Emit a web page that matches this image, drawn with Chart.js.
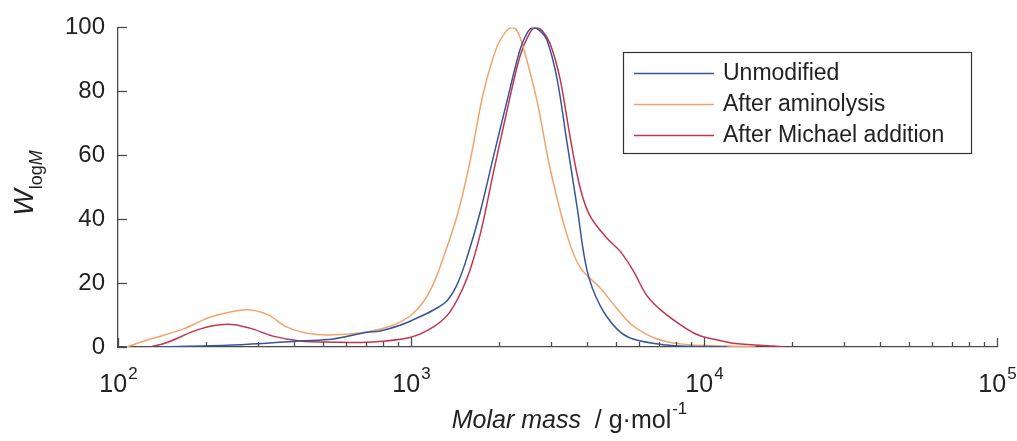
<!DOCTYPE html>
<html>
<head>
<meta charset="utf-8">
<script src="https://cdn.jsdelivr.net/npm/chart.js@4/dist/chart.umd.min.js"></script>
<style>
  body { margin: 0; background: #fff; }
  #wrap { width: 1017px; height: 441px; position: relative; }
</style>
</head>
<body>
<div id="wrap"><canvas id="gpcChart"></canvas></div>
<script>
// molar mass (g/mol) and W_logM
const unmodifiedM = [129, 247, 418, 542, 708, 784, 917, 1016, 1189, 1327, 1436, 1553, 1720, 1905, 2127, 2355, 2500, 2609, 2750, 2912, 3150, 3407, 3686, 3988, 4417, 5049, 5725, 7477, 8959, 12000];
const unmodifiedW = [0, 0.6, 1.9, 2.5, 4.6, 5, 6.8, 8.5, 11.5, 14.5, 19.5, 28, 42, 59, 77, 93, 98.5, 100, 99, 96, 84, 64, 44, 24, 13, 5.6, 2.5, 0.6, 0.2, 0];

const aminolysisM = [107, 129, 167, 206, 267, 323, 377, 442, 542, 708, 868, 992, 1100, 1189, 1256, 1436, 1590, 1761, 1966, 2120, 2212, 2300, 2412, 2692, 2981, 3407, 3774, 4417, 5049, 5725, 6913, 8477, 11980, 15000];
const aminolysisW = [0, 2.5, 5.6, 9.3, 11.6, 10.2, 6.2, 4.3, 3.8, 4.7, 6.8, 9.7, 14, 19.5, 25, 41, 58, 79, 94, 99, 100, 99, 94, 77, 56, 35, 25, 18.5, 12, 6.6, 2.5, 0.9, 0.3, 0];

const michaelM = [129, 147, 190, 236, 282, 338, 418, 542, 708, 992, 1189, 1359, 1553, 1720, 1905, 2127, 2355, 2550, 2671, 2800, 2981, 3225, 3488, 3774, 4082, 4667, 5169, 5725, 6391, 7246, 8750, 9690, 10730, 12560, 17200, 19000];
const michaelW = [0, 1.4, 5.6, 7.1, 5.9, 3.4, 1.9, 1.5, 1.5, 3, 6.2, 11, 21.5, 35, 54, 74, 91, 98.5, 100, 99, 95, 84, 66, 50, 41, 34, 30, 24, 16, 11, 5.6, 3.5, 2.5, 1.2, 0.3, 0];

const seriesLabels = ['Unmodified', 'After aminolysis', 'After Michael addition'];
const seriesColors = ['#34569a', '#f2a46c', '#c2354f'];

const yTicks = [0, 20, 40, 60, 80, 100];
const xDecades = [2, 3, 4, 5];

const FONT = '"Liberation Sans", Arial, sans-serif';
const TEXT = '#222222';
const AXIS = '#4a4a4a';

const toPoints = (xs, ys) => xs.map((x, i) => ({ x: x, y: ys[i] }));

// inward ticks, superscript labels, axis titles and the boxed legend
const decorPlugin = {
    id: 'decor',
    afterDraw(chart) {
        const ctx = chart.ctx;
        const xs = chart.scales.x;
        const ys = chart.scales.y;
        const area = chart.chartArea;

        ctx.save();
        ctx.strokeStyle = AXIS;
        ctx.lineWidth = 1.3;

        // y ticks pointing into the plot
        yTicks.forEach((v) => {
            const py = Math.round(ys.getPixelForValue(v)) + 0.5;
            ctx.beginPath();
            ctx.moveTo(area.left, py);
            ctx.lineTo(area.left + 9, py);
            ctx.stroke();
        });

        // x ticks: major at decades, minor between
        xDecades.forEach((e, i) => {
            const px = Math.round(xs.getPixelForValue(Math.pow(10, e))) + 0.5;
            ctx.beginPath();
            ctx.moveTo(px, area.bottom);
            ctx.lineTo(px, area.bottom - 9);
            ctx.stroke();
            if (i < xDecades.length - 1) {
                for (let m = 2; m <= 9; m++) {
                    const mx = Math.round(xs.getPixelForValue(m * Math.pow(10, e))) + 0.5;
                    ctx.beginPath();
                    ctx.moveTo(mx, area.bottom);
                    ctx.lineTo(mx, area.bottom - 5);
                    ctx.stroke();
                }
            }
        });

        // x tick labels 10^n
        ctx.fillStyle = TEXT;
        ctx.textBaseline = 'alphabetic';
        ctx.textAlign = 'left';
        xDecades.forEach((e) => {
            const px = xs.getPixelForValue(Math.pow(10, e));
            ctx.font = '25px ' + FONT;
            const wBase = ctx.measureText('10').width;
            ctx.font = '17px ' + FONT;
            const wSup = ctx.measureText(String(e)).width;
            const start = px - (wBase + wSup) / 2;
            ctx.font = '25px ' + FONT;
            ctx.fillText('10', start, 392);
            ctx.font = '17px ' + FONT;
            ctx.fillText(String(e), start + wBase + 1, 379);
        });

        // x title
        const t1 = 'Molar mass', t2 = '  / g·mol', t3 = '-1';
        ctx.font = 'italic 25px ' + FONT;
        const w1 = ctx.measureText(t1).width;
        ctx.font = '25px ' + FONT;
        const w2 = ctx.measureText(t2).width;
        ctx.font = '17px ' + FONT;
        const w3 = ctx.measureText(t3).width;
        let tx = 569 - (w1 + w2 + w3) / 2;
        ctx.font = 'italic 25px ' + FONT;
        ctx.fillText(t1, tx, 428);
        tx += w1;
        ctx.font = '25px ' + FONT;
        ctx.fillText(t2, tx, 428);
        tx += w2 + 1;
        ctx.font = '17px ' + FONT;
        ctx.fillText(t3, tx, 414);

        // y title W_logM, rotated
        ctx.save();
        ctx.translate(33, 183);
        ctx.rotate(-Math.PI / 2);
        ctx.font = 'italic 28px ' + FONT;
        const wW = ctx.measureText('W').width;
        ctx.font = '18px ' + FONT;
        const wLog = ctx.measureText('log').width;
        ctx.font = 'italic 18px ' + FONT;
        const wM = ctx.measureText('M').width;
        let ty = -(wW + wLog + wM) / 2;
        ctx.font = 'italic 28px ' + FONT;
        ctx.fillText('W', ty, 0);
        ty += wW;
        ctx.font = '18px ' + FONT;
        ctx.fillText('log', ty, 9);
        ty += wLog;
        ctx.font = 'italic 18px ' + FONT;
        ctx.fillText('M', ty, 9);
        ctx.restore();

        // legend box
        ctx.fillStyle = '#ffffff';
        ctx.fillRect(623.5, 52.5, 348, 101);
        ctx.strokeStyle = '#333333';
        ctx.lineWidth = 1.2;
        ctx.strokeRect(623.5, 52.5, 348, 101);
        ctx.font = '23px ' + FONT;
        ctx.textBaseline = 'middle';
        chart.data.datasets.forEach((ds, i) => {
            const ry = 73 + i * 31;
            ctx.strokeStyle = ds.borderColor;
            ctx.lineWidth = 1.5;
            ctx.beginPath();
            ctx.moveTo(634, ry + 0.5);
            ctx.lineTo(714, ry + 0.5);
            ctx.stroke();
            ctx.fillStyle = TEXT;
            ctx.fillText(ds.label, 723, ry + 1);
        });

        ctx.restore();
    }
};

const ctx = document.getElementById('gpcChart').getContext('2d');
new Chart(ctx, {
    type: 'line',
    data: {
        datasets: [
            { label: seriesLabels[0], data: toPoints(unmodifiedM, unmodifiedW), borderColor: seriesColors[0] },
            { label: seriesLabels[1], data: toPoints(aminolysisM, aminolysisW), borderColor: seriesColors[1] },
            { label: seriesLabels[2], data: toPoints(michaelM, michaelW), borderColor: seriesColors[2] },
        ],
    },
    options: {
        responsive: true,
        maintainAspectRatio: false,
        animation: false,
        layout: { padding: { top: 26, right: 20, bottom: 0, left: 0 } },
        elements: {
            point: { radius: 0 },
            line: { borderWidth: 1.5, tension: 0.35, fill: false, capBezierPoints: true },
        },
        plugins: {
            legend: { display: false },
            tooltip: { enabled: false },
        },
        scales: {
            x: {
                type: 'logarithmic',
                min: 100,
                max: 100000,
                grid: { drawOnChartArea: false, drawTicks: false },
                border: { color: AXIS, width: 1.3 },
                ticks: { display: false },
                afterFit: (scale) => { scale.height = 94; },
            },
            y: {
                min: 0,
                max: 100,
                grid: { drawOnChartArea: false, drawTicks: false },
                border: { color: AXIS, width: 1.3 },
                ticks: {
                    stepSize: 20,
                    padding: 13,
                    color: TEXT,
                    font: { family: FONT, size: 24 },
                },
                afterFit: (scale) => { scale.width = 118; },
            },
        },
    },
    plugins: [decorPlugin],
});
</script>
</body>
</html>
